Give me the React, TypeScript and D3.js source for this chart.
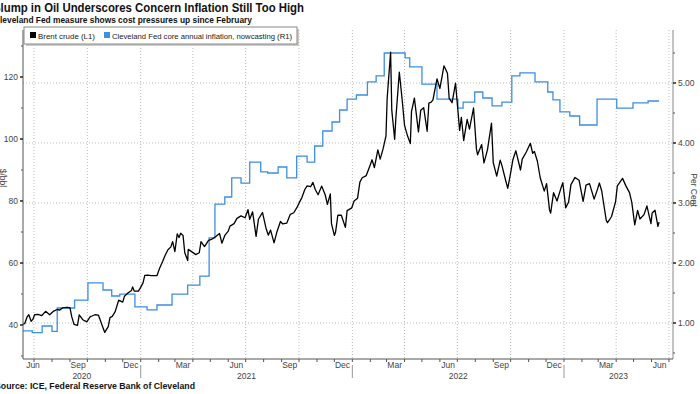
import React from 'react';
import * as d3 from 'd3';

// Brent crude, $/bbl (L1)
const brentDates = [
  '2020-06-12', '2020-06-15', '2020-06-19', '2020-06-22', '2020-06-26', '2020-06-29', '2020-07-02',
  '2020-07-08', '2020-07-14', '2020-07-21', '2020-07-28', '2020-08-04', '2020-08-10', '2020-08-14',
  '2020-08-19', '2020-08-26', '2020-09-01', '2020-09-04', '2020-09-08', '2020-09-14', '2020-09-17',
  '2020-09-23', '2020-09-30', '2020-10-06', '2020-10-09', '2020-10-14', '2020-10-20', '2020-10-28',
  '2020-10-31', '2020-11-06', '2020-11-09', '2020-11-13', '2020-11-18', '2020-11-24', '2020-12-01',
  '2020-12-04', '2020-12-10', '2020-12-16', '2020-12-18', '2020-12-21', '2020-12-28', '2020-12-31',
  '2021-01-05', '2021-01-08', '2021-01-13', '2021-01-19', '2021-01-26', '2021-01-29', '2021-02-03',
  '2021-02-08', '2021-02-12', '2021-02-17', '2021-02-22', '2021-02-25', '2021-03-01', '2021-03-05',
  '2021-03-08', '2021-03-11', '2021-03-15', '2021-03-18', '2021-03-23', '2021-03-24', '2021-03-31',
  '2021-04-06', '2021-04-12', '2021-04-15', '2021-04-21', '2021-04-28', '2021-05-03', '2021-05-11',
  '2021-05-17', '2021-05-21', '2021-05-26', '2021-06-01', '2021-06-04', '2021-06-11', '2021-06-16',
  '2021-06-23', '2021-06-30', '2021-07-05', '2021-07-08', '2021-07-13', '2021-07-19', '2021-07-23',
  '2021-07-30', '2021-08-05', '2021-08-09', '2021-08-13', '2021-08-19', '2021-08-24', '2021-08-30',
  '2021-09-03', '2021-09-10', '2021-09-16', '2021-09-22', '2021-09-28', '2021-10-01', '2021-10-06',
  '2021-10-11', '2021-10-15', '2021-10-21', '2021-10-25', '2021-10-29', '2021-11-03', '2021-11-09',
  '2021-11-15', '2021-11-19', '2021-11-24', '2021-11-26', '2021-12-01', '2021-12-03', '2021-12-07',
  '2021-12-13', '2021-12-20', '2021-12-23', '2021-12-31', '2022-01-04', '2022-01-10', '2022-01-14',
  '2022-01-18', '2022-01-25', '2022-01-31', '2022-02-04', '2022-02-08', '2022-02-14', '2022-02-18',
  '2022-02-23', '2022-02-28', '2022-03-02', '2022-03-04', '2022-03-08', '2022-03-10', '2022-03-15',
  '2022-03-17', '2022-03-23', '2022-03-28', '2022-04-01', '2022-04-06', '2022-04-11', '2022-04-13',
  '2022-04-18', '2022-04-25', '2022-04-29', '2022-05-04', '2022-05-10', '2022-05-13', '2022-05-17',
  '2022-05-20', '2022-05-27', '2022-06-01', '2022-06-08', '2022-06-14', '2022-06-17', '2022-06-22',
  '2022-06-28', '2022-07-05', '2022-07-08', '2022-07-12', '2022-07-18', '2022-07-22', '2022-07-29',
  '2022-08-03', '2022-08-05', '2022-08-12', '2022-08-16', '2022-08-22', '2022-08-29', '2022-09-01',
  '2022-09-07', '2022-09-13', '2022-09-16', '2022-09-23', '2022-09-26', '2022-09-30', '2022-10-05',
  '2022-10-10', '2022-10-18', '2022-10-21', '2022-10-28', '2022-11-04', '2022-11-08', '2022-11-11',
  '2022-11-16', '2022-11-21', '2022-11-28', '2022-12-02', '2022-12-07', '2022-12-09', '2022-12-14',
  '2022-12-20', '2022-12-27', '2022-12-30', '2023-01-04', '2023-01-09', '2023-01-13', '2023-01-20',
  '2023-01-27', '2023-02-03', '2023-02-08', '2023-02-14', '2023-02-22', '2023-02-28', '2023-03-03',
  '2023-03-07', '2023-03-15', '2023-03-17', '2023-03-20', '2023-03-24', '2023-03-31', '2023-04-03',
  '2023-04-12', '2023-04-18', '2023-04-24', '2023-04-28', '2023-05-03', '2023-05-08', '2023-05-12',
  '2023-05-19', '2023-05-24', '2023-05-31', '2023-06-02', '2023-06-07', '2023-06-12', '2023-06-14',
];
const brentPrices = [
  40.2, 40.5, 42.6, 43.3, 41.2, 41.8, 43.3,
  43.4, 43.0, 44.4, 43.3, 44.5, 45.0, 44.8,
  45.5, 45.7, 45.6, 42.7, 40.2, 39.9, 43.3,
  41.7, 41.0, 42.7, 42.9, 43.3, 43.2, 39.1,
  37.6, 39.5, 42.4, 42.8, 44.3, 48.0, 47.4,
  49.3, 50.3, 51.1, 52.3, 50.9, 50.9, 51.8,
  53.6, 56.0, 56.1, 55.9, 55.9, 55.9, 58.5,
  60.6, 62.4, 64.3, 65.2, 66.9, 63.7, 69.4,
  68.2, 69.6, 68.9, 63.3, 60.8, 64.4, 63.5,
  62.7, 63.3, 66.9, 65.3, 67.3, 67.6, 68.6,
  69.5, 66.4, 68.9, 70.3, 71.9, 72.7, 74.4,
  75.2, 74.6, 77.2, 74.1, 76.5, 68.6, 74.1,
  76.3, 71.3, 69.0, 70.6, 66.5, 70.1, 73.4,
  72.6, 72.9, 75.7, 76.2, 78.1, 79.3, 81.1,
  83.7, 84.9, 84.6, 86.0, 83.7, 82.0, 84.8,
  82.1, 78.9, 82.3, 72.7, 68.9, 69.9, 75.4,
  75.4, 71.5, 76.9, 77.8, 80.0, 80.9, 86.1,
  87.5, 88.2, 91.2, 93.3, 90.8, 96.5, 93.5,
  96.8, 101.0, 112.9, 118.1, 128.0, 109.3, 99.9,
  106.6, 121.6, 112.5, 104.4, 101.1, 98.5, 108.8,
  113.2, 102.3, 109.3, 110.1, 102.5, 111.6, 111.9,
  112.6, 119.4, 116.3, 123.6, 121.2, 113.1, 111.7,
  118.0, 102.8, 107.0, 99.5, 106.3, 103.2, 110.0,
  96.8, 94.9, 98.2, 92.3, 96.5, 105.1, 92.4,
  88.0, 93.2, 91.4, 86.2, 84.1, 88.0, 93.4,
  96.2, 90.0, 93.5, 95.8, 98.6, 95.4, 96.0,
  92.9, 87.5, 83.2, 85.6, 77.2, 76.1, 82.7,
  80.0, 84.3, 85.9, 77.8, 79.7, 85.3, 87.6,
  86.7, 79.9, 85.1, 85.6, 80.6, 83.9, 85.8,
  83.3, 73.7, 73.0, 73.8, 75.0, 79.8, 84.9,
  87.3, 84.8, 82.7, 79.5, 72.3, 77.0, 74.2,
  75.6, 78.4, 72.7, 76.1, 77.0, 71.8, 73.2,
];

// Cleveland Fed core annual inflation, nowcasting, per cent (R1)
const inflationDates = [
  '2020-06-12', '2020-06-28', '2020-07-15', '2020-08-01', '2020-08-10', '2020-09-09', '2020-10-02',
  '2020-10-28', '2020-11-12', '2020-11-26', '2020-12-22', '2021-01-12', '2021-01-29', '2021-02-24',
  '2021-03-23', '2021-04-13', '2021-04-29', '2021-05-09', '2021-05-26', '2021-06-07', '2021-06-23',
  '2021-07-08', '2021-07-27', '2021-08-08', '2021-08-26', '2021-09-10', '2021-09-27', '2021-10-15',
  '2021-10-28', '2021-11-11', '2021-11-27', '2021-12-10', '2021-12-23', '2022-01-08', '2022-01-27',
  '2022-02-11', '2022-02-25', '2022-04-02', '2022-04-10', '2022-05-01', '2022-05-27', '2022-07-02',
  '2022-07-11', '2022-07-31', '2022-08-14', '2022-08-30', '2022-09-16', '2022-10-03', '2022-10-17',
  '2022-11-12', '2022-12-04', '2022-12-13', '2022-12-25', '2023-01-11', '2023-01-28', '2023-02-27',
  '2023-04-02', '2023-04-30', '2023-05-26', '2023-06-14',
];
const inflationRates = [
  0.87, 0.84, 0.95, 0.86, 1.25, 1.38, 1.67,
  1.55, 1.45, 1.48, 1.27, 1.22, 1.3, 1.48,
  1.63, 1.78, 2.42, 2.98, 3.1, 3.42, 3.33,
  3.68, 3.52, 3.5, 3.6, 3.42, 3.78, 3.68,
  3.95, 4.2, 4.35, 4.55, 4.73, 4.8, 5.02,
  5.12, 5.5, 5.42, 5.27, 4.98, 4.73, 4.58,
  4.68, 4.85, 4.75, 4.62, 4.68, 5.12, 5.17,
  5.02, 4.85, 4.72, 4.52, 4.45, 4.3, 4.73,
  4.58, 4.67, 4.7, 4.7,
];

const leftTicks = [40, 60, 80, 100, 120];
const leftMinor = [30, 50, 70, 90, 110, 130];
const rightTicks = [1, 2, 3, 4, 5];
const rightMinor = [0.5, 1.5, 2.5, 3.5, 4.5, 5.5];
const years = [2020, 2021, 2022, 2023];

const title = 'Slump in Oil Underscores Concern Inflation Still Too High';
const subtitle = 'Cleveland Fed measure shows cost pressures up since February';
const source = 'Source: ICE, Federal Reserve Bank of Cleveland';
const legendItems = [
  { label: 'Brent crude (L1)', color: '#000000', x: 30, width: 57 },
  { label: 'Cleveland Fed core annual inflation, nowcasting (R1)', color: '#3d8fe0', x: 104, width: 180 },
];

const parse = d3.utcParse('%Y-%m-%d');
const brent = brentDates.map((d, i) => ({ date: parse(d) as Date, value: brentPrices[i] }));
const inflation = inflationDates.map((d, i) => ({ date: parse(d) as Date, value: inflationRates[i] }));

const left = 23, right = 673, top = 30, bottom = 359;
const start = new Date(Date.UTC(2020, 5, 12));
const end = new Date(Date.UTC(2023, 6, 8));

const App: React.FC = () => {
  const x = d3.scaleUtc().domain([start, end]).range([left, right]);
  const yL = d3.scaleLinear().domain([40, 120]).range([325, 77]);
  const yR = d3.scaleLinear().domain([1, 5]).range([323, 83]);

  const brentLine = d3.line<{ date: Date; value: number }>()
    .x(d => x(d.date))
    .y(d => yL(d.value));
  const inflLine = d3.line<{ date: Date; value: number }>()
    .x(d => x(d.date))
    .y(d => yR(d.value))
    .curve(d3.curveStepAfter);

  const months = d3.utcMonth.range(d3.utcMonth.ceil(start), end);
  const quarters = months.filter(m => m.getUTCMonth() % 3 === 0);
  const labelMonths = months.map(m => d3.utcMonth.offset(m, -1)).filter(m => m.getUTCMonth() % 3 === 2);
  const fmt = d3.utcFormat('%b');

  const font = "'Liberation Sans', Arial, sans-serif";
  const narrow = "'Liberation Sans Narrow', 'Liberation Sans', Arial, sans-serif";
  const tickColor = '#444';

  return (
    <svg width={700} height={394} style={{ position: 'absolute', left: 0, top: 0, background: '#fff' }} fontFamily={font}>
      <text x={-7} y={12} fontSize={12.5} fontWeight="bold" fontFamily={narrow} fill="#111" textLength={311} lengthAdjust="spacingAndGlyphs">{title}</text>
      <text x={-6} y={23} fontSize={9.5} fontWeight="bold" fontFamily={narrow} fill="#111" textLength={258} lengthAdjust="spacingAndGlyphs">{subtitle}</text>

      {/* grid */}
      {quarters.map((q, i) => (
        <line key={'vg' + i} x1={x(q)} x2={x(q)} y1={top} y2={bottom} stroke="#bbb" strokeWidth={1} strokeDasharray="1,2" />
      ))}
      {rightTicks.map(t => (
        <line key={'hg' + t} x1={left} x2={right} y1={yR(t)} y2={yR(t)} stroke="#bbb" strokeWidth={1} strokeDasharray="1,2" />
      ))}

      {/* series */}
      <path d={inflLine(inflation) || ''} fill="none" stroke="#3d8fe0" strokeWidth={1.3} />
      <path d={brentLine(brent) || ''} fill="none" stroke="#000" strokeWidth={1.3} strokeLinejoin="round" />

      {/* axes */}
      <line x1={left} x2={left} y1={top} y2={bottom} stroke="#555" />
      <line x1={right} x2={right} y1={top} y2={bottom} stroke="#888" />
      <line x1={left} x2={right} y1={bottom} y2={bottom} stroke="#555" />

      {leftTicks.map(t => (
        <g key={'lt' + t}>
          <line x1={left - 3} x2={left} y1={yL(t)} y2={yL(t)} stroke="#222" strokeWidth={1.5} />
          <text x={left - 5} y={yL(t) + 3} fontSize={8.5} textAnchor="end" fill={tickColor}>{t}</text>
        </g>
      ))}
      {leftMinor.map(t => (
        <line key={'lm' + t} x1={left - 2} x2={left} y1={yL(t)} y2={yL(t)} stroke="#555" />
      ))}
      {rightTicks.map(t => (
        <g key={'rt' + t}>
          <line x1={right} x2={right + 3} y1={yR(t)} y2={yR(t)} stroke="#222" strokeWidth={1.5} />
          <text x={right + 5} y={yR(t) + 3} fontSize={8.5} fill={tickColor}>{d3.format('.2f')(t)}</text>
        </g>
      ))}
      {rightMinor.map(t => (
        <line key={'rm' + t} x1={right} x2={right + 2} y1={yR(t)} y2={yR(t)} stroke="#555" />
      ))}

      {months.map((m, i) => (
        <line key={'mt' + i} x1={x(m)} x2={x(m)} y1={bottom} y2={bottom + 3} stroke="#555" />
      ))}
      {labelMonths.map((m, i) => {
        const cx = Math.max(x(d3.utcDay.offset(m, 14)), left + 10);
        return (
          <text key={'ml' + i} x={cx} y={bottom + 9} fontSize={8.5} textAnchor="middle" fill={tickColor}>{fmt(m)}</text>
        );
      })}
      {years.map(yr => {
        const a = new Date(Math.max(+start, Date.UTC(yr, 0, 1)));
        const b = new Date(Math.min(+end, Date.UTC(yr + 1, 0, 1)));
        const cx = (x(a) + x(b)) / 2;
        return (
          <g key={'yr' + yr}>
            <text x={cx} y={bottom + 20} fontSize={8.5} textAnchor="middle" fill={tickColor}>{yr}</text>
            {yr > 2020 && (
              <line x1={x(a)} x2={x(a)} y1={bottom + 6} y2={bottom + 19} stroke="#999" />
            )}
          </g>
        );
      })}

      <text transform={`translate(0,178) rotate(90)`} fontSize={8.5} textAnchor="middle" fill={tickColor}>$/bbl</text>
      <text transform={`translate(691,190) rotate(90)`} fontSize={8.5} textAnchor="middle" fill={tickColor}>Per Cent</text>

      {/* legend */}
      <rect x={26} y={29} width={273} height={17} fill="#ccc" />
      <rect x={24} y={27} width={273} height={17} fill="#fff" stroke="#888" />
      {legendItems.map((it, i) => (
        <g key={'lg' + i}>
          <rect x={it.x} y={32} width={6} height={6} fill={it.color} />
          <text x={it.x + 8} y={38.5} fontSize={8} fill="#222" textLength={it.width} lengthAdjust="spacingAndGlyphs">{it.label}</text>
        </g>
      ))}

      <text x={-5} y={389} fontSize={9.5} fontWeight="bold" fontFamily={narrow} fill="#111" textLength={200} lengthAdjust="spacingAndGlyphs">{source}</text>
    </svg>
  );
};

export default App;
